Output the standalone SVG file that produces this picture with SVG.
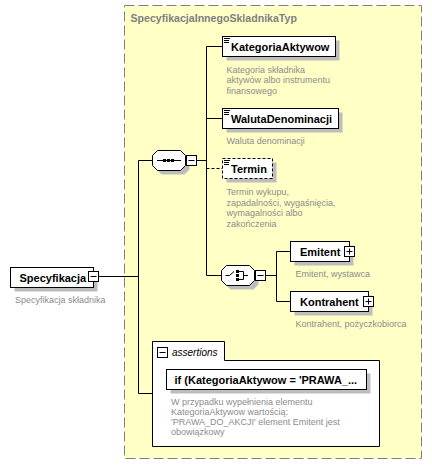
<svg xmlns="http://www.w3.org/2000/svg" width="432" height="476" viewBox="0 0 432 476">
<defs>
<style>
.bg{fill:#ffffff}
.type{fill:#ffffc6;stroke:#808080;stroke-width:1;stroke-dasharray:10 4}
.title{font-family:"Liberation Sans",Arial,sans-serif;font-size:10.6px;font-weight:bold;fill:#808080}
.box{fill:#ffffff;stroke:#000000;stroke-width:1}
.dbox{fill:#ffffff;stroke:#000000;stroke-width:1;stroke-dasharray:3 2}
.shadow{fill:#bdbdbd}
.name{font-family:"Liberation Sans",Arial,sans-serif;font-size:11px;font-weight:bold;fill:#000000}
.desc{font-family:"Liberation Sans",Arial,sans-serif;font-size:9px;fill:#8c8c8c}
.ital{font-family:"Liberation Sans",Arial,sans-serif;font-size:10px;font-style:italic;fill:#000000}
.ln{fill:none;stroke:#000000;stroke-width:1}
.dln{fill:none;stroke:#000000;stroke-width:1;stroke-dasharray:3 2}
.ico{fill:#000000}
</style>
</defs>
<rect class="bg" x="0" y="0" width="432" height="476"/>

<g id="SpecyfikacjaInnegoSkladnikaTyp">
<rect class="type" x="124.5" y="5.5" width="297" height="453"/>
<text class="title" x="130.5" y="22">SpecyfikacjaInnegoSkladnikaTyp</text>
</g>

<g id="connectors">
<path class="ln" d="M98.5,276.5 H138.5 M138.5,160.5 V393.5 M138.5,160.5 H152.5 M138.5,393.5 H152.5"/>
<path class="ln" d="M196.5,160.5 H206.5 M206.5,46.5 V275.5 M206.5,46.5 H222.5 M206.5,118.5 H222.5 M206.5,275.5 H221.5"/>
<path class="dln" d="M206.5,168.5 H222.5"/>
<path class="ln" d="M265.5,275.5 H276.5 M276.5,251.5 V301.5 M276.5,251.5 H290.5 M276.5,301.5 H290.5"/>
</g>

<g id="Specyfikacja">
<rect class="shadow" x="14.5" y="271.5" width="83" height="20"/>
<rect class="box" x="10.5" y="267.5" width="83" height="20"/>
<text class="name" x="19.5" y="281.5">Specyfikacja</text>
<rect class="box" x="88.5" y="271.5" width="10" height="10"/>
<path class="ln" d="M90.5,276.5 H96.5"/>
<text class="desc" x="15" y="303">Specyfikacja składnika</text>
</g>

<g id="sequence">
<path class="shadow" d="M161.5,154.5 H184.5 L189.5,159.5 V169.5 L184.5,174.5 H161.5 L156.5,169.5 V159.5 Z"/>
<path class="box" d="M157.5,150.5 H180.5 L185.5,155.5 V165.5 L180.5,170.5 H157.5 L152.5,165.5 V155.5 Z"/>
<path class="ln" d="M157,160.5 H181"/>
<rect class="ico" x="163" y="159" width="3" height="3"/>
<rect class="ico" x="167" y="159" width="3" height="3"/>
<rect class="ico" x="171" y="159" width="3" height="3"/>
<rect class="box" x="186.5" y="155.5" width="10" height="10"/>
<path class="ln" d="M188.5,160.5 H194.5"/>
</g>

<g id="KategoriaAktywow">
<rect class="shadow" x="226.5" y="40.5" width="113" height="20"/>
<rect class="box" x="222.5" y="36.5" width="113" height="20"/>
<path class="ln" d="M224,38.5 H230 M224,40.5 H229 M224,42.5 H229"/>
<text class="name" x="231" y="51">KategoriaAktywow</text>
<text class="desc" x="226.5" y="72.5">Kategoria składnika</text>
<text class="desc" x="226.5" y="83">aktywów albo instrumentu</text>
<text class="desc" x="226.5" y="93.5">finansowego</text>
</g>

<g id="WalutaDenominacji">
<rect class="shadow" x="226.5" y="112.5" width="116" height="20"/>
<rect class="box" x="222.5" y="108.5" width="116" height="20"/>
<path class="ln" d="M224,110.5 H230 M224,112.5 H229 M224,114.5 H229"/>
<text class="name" x="231" y="123">WalutaDenominacji</text>
<text class="desc" x="226.5" y="143.5">Waluta denominacji</text>
</g>

<g id="Termin">
<rect class="shadow" x="226.5" y="162.5" width="50" height="20"/>
<rect class="dbox" x="222.5" y="158.5" width="50" height="20"/>
<path class="ln" d="M224,160.5 H230 M224,162.5 H229 M224,164.5 H229"/>
<text class="name" x="231" y="173">Termin</text>
<text class="desc" x="226.5" y="195">Termin wykupu,</text>
<text class="desc" x="226.5" y="205.5">zapadalności, wygaśnięcia,</text>
<text class="desc" x="226.5" y="216">wymagalności albo</text>
<text class="desc" x="226.5" y="226.5">zakończenia</text>
</g>

<g id="choice">
<path class="shadow" d="M230.5,269.5 H253.5 L258.5,274.5 V284.5 L253.5,289.5 H230.5 L225.5,284.5 V274.5 Z"/>
<path class="box" d="M226.5,265.5 H249.5 L254.5,270.5 V280.5 L249.5,285.5 H226.5 L221.5,280.5 V270.5 Z"/>
<path class="ln" d="M225.5,275.5 H229.5 L234,271.5 M239,271.5 H243.5 V279.5 H239 M243.5,275.5 H248"/>
<rect class="ico" x="236" y="270" width="3" height="3"/>
<rect class="ico" x="236" y="274" width="3" height="3"/>
<rect class="ico" x="236" y="278" width="3" height="3"/>
<rect class="box" x="255.5" y="270.5" width="10" height="10"/>
<path class="ln" d="M257.5,275.5 H263.5"/>
</g>

<g id="Emitent">
<rect class="shadow" x="294.5" y="245.5" width="59" height="20"/>
<rect class="box" x="290.5" y="241.5" width="59" height="20"/>
<text class="name" x="300" y="256">Emitent</text>
<rect class="box" x="344.5" y="246.5" width="10" height="10"/>
<path class="ln" d="M346.5,251.5 H352.5 M349.5,248.5 V254.5"/>
<text class="desc" x="295.5" y="276.5">Emitent, wystawca</text>
</g>

<g id="Kontrahent">
<rect class="shadow" x="294.5" y="295.5" width="78" height="20"/>
<rect class="box" x="290.5" y="291.5" width="78" height="20"/>
<text class="name" x="300" y="306">Kontrahent</text>
<rect class="box" x="363.5" y="296.5" width="10" height="10"/>
<path class="ln" d="M365.5,301.5 H371.5 M368.5,298.5 V304.5"/>
<text class="desc" x="295.5" y="326.5">Kontrahent, pożyczkobiorca</text>
</g>

<g id="assertions">
<path class="box" d="M152.5,341.5 H224.5 V360.5 H379.5 V446.5 H152.5 Z"/>
<rect class="box" x="157.5" y="347.5" width="10" height="10"/>
<path class="ln" d="M159.5,352.5 H165.5"/>
<text class="ital" x="172" y="356">assertions</text>
<rect class="shadow" x="170.5" y="373.5" width="200" height="20"/>
<rect class="box" x="166.5" y="369.5" width="200" height="20"/>
<text class="name" x="174.5" y="384">if (KategoriaAktywow = 'PRAWA_...</text>
<text class="desc" x="171" y="405">W przypadku wypełnienia elementu</text>
<text class="desc" x="171" y="415">KategoriaAktywow wartością:</text>
<text class="desc" x="171" y="425">'PRAWA_DO_AKCJI' element Emitent jest</text>
<text class="desc" x="171" y="435">obowiązkowy</text>
</g>
</svg>
